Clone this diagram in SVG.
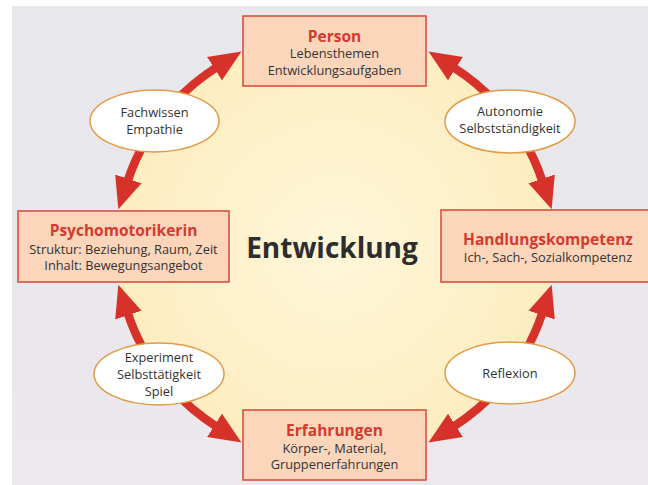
<svg xmlns="http://www.w3.org/2000/svg" width="648" height="485" viewBox="0 0 648 485">
<defs>
<radialGradient id="yel" cx="0.5" cy="0.5" r="0.5">
<stop offset="0" stop-color="#fff6da"/>
<stop offset="1" stop-color="#fdedc0"/>
</radialGradient>
<linearGradient id="bg" x1="0" y1="0" x2="0" y2="1">
<stop offset="0" stop-color="#e8e7ec"/>
<stop offset="1" stop-color="#ebe8ee"/>
</linearGradient>
<marker id="ah" markerUnits="userSpaceOnUse" markerWidth="32" markerHeight="28" viewBox="0 0 30 26" refX="2" refY="13" orient="auto">
<path d="M0,0 L30,13 L0,26 z" fill="#d6322a"/>
</marker>
</defs>
<style>
.box{fill:#fbd6bb;stroke:#d8463a;stroke-width:1.5}
.ell{fill:#ffffff;stroke:#e39a45;stroke-width:1.5}
.arr{fill:none;stroke:#d6322a;stroke-width:8.5;marker-end:url(#ah)}
text{font-family:"Open Sans","Noto Sans","DejaVu Sans",sans-serif;text-anchor:middle;fill:#333333}
.t{font-size:12.8px}
.h{font-size:15.5px;font-weight:bold;fill:#d63a2e}
.big{font-size:28px;font-weight:bold;fill:#2d2d2d}
</style>
<rect x="0" y="0" width="648" height="485" fill="#ffffff"/>
<rect x="12" y="6" width="636" height="479" fill="url(#bg)"/>
<ellipse cx="335" cy="247" rx="218" ry="214" fill="url(#yel)"/>

<g id="connectors">
<path class="arr" d="M173,103.8 A218,214 0 0 1 216.3,67.5"/>
<path class="arr" d="M146.2,140 A218,214 0 0 0 127.7,180.9"/>
<path class="arr" d="M497,103.8 A218,214 0 0 0 453.7,67.5"/>
<path class="arr" d="M523.8,140 A218,214 0 0 1 542.3,180.9"/>
<path class="arr" d="M523.8,354 A218,214 0 0 0 542.3,313.1"/>
<path class="arr" d="M497,390.2 A218,214 0 0 1 453.7,426.5"/>
<path class="arr" d="M173,390.2 A218,214 0 0 0 216.3,426.5"/>
<path class="arr" d="M146.2,354 A218,214 0 0 1 127.7,313.1"/>
</g>

<g id="person">
<rect class="box" x="243" y="16" width="183" height="70"/>
<text class="h" x="334.5" y="41.5">Person</text>
<text class="t" x="334.5" y="58">Lebensthemen</text>
<text class="t" x="334.5" y="75">Entwicklungsaufgaben</text>
</g>

<g id="psychomotorikerin">
<rect class="box" x="18" y="211" width="211" height="71"/>
<text class="h" x="123.5" y="236">Psychomotorikerin</text>
<text class="t" x="123.5" y="254">Struktur: Beziehung, Raum, Zeit</text>
<text class="t" x="123.5" y="270">Inhalt: Bewegungsangebot</text>
</g>

<g id="handlungskompetenz">
<rect class="box" x="441" y="210" width="212" height="72"/>
<text class="h" x="548" y="245">Handlungskompetenz</text>
<text class="t" x="548" y="262">Ich-, Sach-, Sozialkompetenz</text>
</g>

<g id="erfahrungen">
<rect class="box" x="243" y="410" width="183" height="70"/>
<text class="h" x="334.5" y="435.5">Erfahrungen</text>
<text class="t" x="334.5" y="453">Körper-, Material,</text>
<text class="t" x="334.5" y="469">Gruppenerfahrungen</text>
</g>

<g id="fachwissen">
<ellipse class="ell" cx="154.5" cy="121" rx="64.5" ry="31"/>
<text class="t" x="154.5" y="117">Fachwissen</text>
<text class="t" x="154.5" y="134">Empathie</text>
</g>

<g id="autonomie">
<ellipse class="ell" cx="510" cy="121.5" rx="65" ry="31.5"/>
<text class="t" x="510" y="116">Autonomie</text>
<text class="t" x="510" y="133">Selbstständigkeit</text>
</g>

<g id="experiment">
<ellipse class="ell" cx="159" cy="374" rx="65" ry="31"/>
<text class="t" x="159" y="362">Experiment</text>
<text class="t" x="159" y="379">Selbsttätigkeit</text>
<text class="t" x="159" y="396">Spiel</text>
</g>

<g id="reflexion">
<ellipse class="ell" cx="510" cy="373" rx="65" ry="31"/>
<text class="t" x="510" y="377.5">Reflexion</text>
</g>

<g id="entwicklung">
<text class="big" x="332" y="258">Entwicklung</text>
</g>
</svg>
